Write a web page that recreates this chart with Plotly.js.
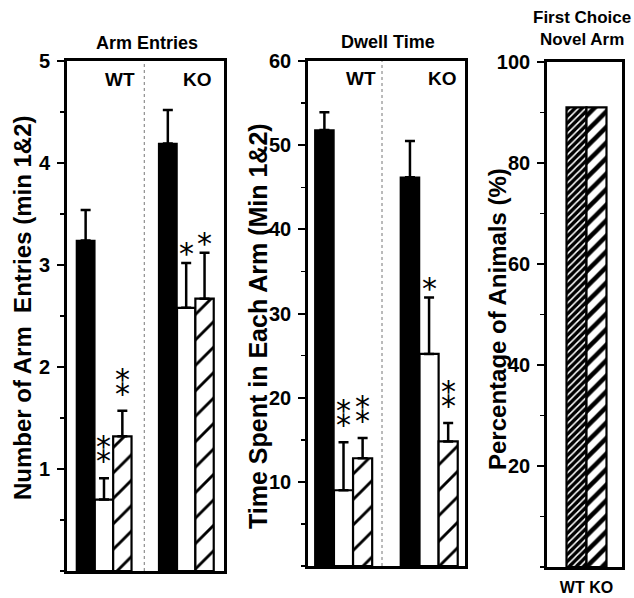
<!DOCTYPE html>
<html>
<head>
<meta charset="utf-8">
<script src="https://cdn.plot.ly/plotly-3.0.1.min.js"></script>
<style>
  html, body { margin: 0; padding: 0; background: #fff; }
  #chart { width: 634px; height: 598px; }
</style>
</head>
<body>
<div id="chart"></div>
<script>
// ---------- data ----------
const groups = ['WT', 'KO'];

// Arm Entries (min 1&2)
const entriesBlack = [3.24, 4.19];
const entriesBlackErr = [0.30, 0.33];
const entriesWhite = [0.70, 2.58];
const entriesWhiteErr = [0.21, 0.44];
const entriesHatched = [1.32, 2.67];
const entriesHatchedErr = [0.25, 0.45];
const entriesWhiteSig = ['**', '*'];
const entriesHatchedSig = ['**', '*'];
const entriesTicks = [1, 2, 3, 4, 5];

// Dwell Time (min 1&2)
const dwellBlack = [51.8, 46.2];
const dwellBlackErr = [2.1, 4.3];
const dwellWhite = [9.0, 25.2];
const dwellWhiteErr = [5.7, 6.7];
const dwellHatched = [12.8, 14.8];
const dwellHatchedErr = [2.4, 2.2];
const dwellWhiteSig = ['**', '*'];
const dwellHatchedSig = ['**', '**'];
const dwellTicks = [10, 20, 30, 40, 50, 60];

// First Choice Novel Arm
const choiceWT = [91];
const choiceKO = [91];
const choiceLabel = 'WT KO';
const choiceTicks = [20, 40, 60, 80, 100];

// ---------- styles ----------
const FONT = 'Liberation Sans, Arial, Helvetica, sans-serif';
const STARFONT = 'DejaVu Sans, Noto Sans, sans-serif';
const BARGAP = 0.33;
const zeros = a => a.map(() => 0);

const solidMarker = { color: '#000', line: { color: '#000', width: 1.5 } };
const whiteMarker = { color: '#fff', line: { color: '#000', width: 2.2 } };
const hatchMarker = {
  color: '#fff',
  line: { color: '#000', width: 2.2 },
  pattern: { shape: '/', fgcolor: '#000', bgcolor: '#fff', size: 18, solidity: 0.16 }
};

function bar(name, xa, ya, y, err, marker) {
  return {
    type: 'bar', name, x: groups, y, xaxis: xa, yaxis: ya, marker,
    error_y: { type: 'data', symmetric: false, array: err, arrayminus: zeros(err),
               color: '#000', thickness: 2.5, width: 5 },
    showlegend: false, hoverinfo: 'skip'
  };
}

const data = [
  bar('Black', 'x', 'y', entriesBlack, entriesBlackErr, solidMarker),
  bar('White', 'x', 'y', entriesWhite, entriesWhiteErr, whiteMarker),
  bar('Hatched', 'x', 'y', entriesHatched, entriesHatchedErr, hatchMarker),
  bar('Black', 'x2', 'y2', dwellBlack, dwellBlackErr, solidMarker),
  bar('White', 'x2', 'y2', dwellWhite, dwellWhiteErr, whiteMarker),
  bar('Hatched', 'x2', 'y2', dwellHatched, dwellHatchedErr, hatchMarker),
  {
    type: 'bar', name: 'WT', x: ['WT'], y: choiceWT, xaxis: 'x3', yaxis: 'y3', width: 1, offset: -0.5,
    marker: { color: '#000', line: { color: '#000', width: 2.2 },
              pattern: { shape: '/', fgcolor: '#fff', bgcolor: '#000', size: 5, solidity: 0.3 } },
    showlegend: false, hoverinfo: 'skip'
  },
  {
    type: 'bar', name: 'KO', x: ['KO'], y: choiceKO, xaxis: 'x3', yaxis: 'y3', width: 1, offset: -0.5,
    marker: { color: '#fff', line: { color: '#000', width: 2.2 },
              pattern: { shape: '/', fgcolor: '#000', bgcolor: '#fff', size: 11, solidity: 0.42 } },
    showlegend: false, hoverinfo: 'skip'
  }
];

// ---------- significance asterisks ----------
const annotations = [];
const hatchOffset = (1 - BARGAP) / 3;
function stars(xa, ya, vals, errs, sigs, offset) {
  sigs.forEach((s, i) => {
    if (!s) return;
    const dbl = s.length > 1;
    annotations.push({
      xref: xa, yref: ya, x: i + offset, y: vals[i] + errs[i],
      yanchor: 'bottom', xanchor: 'center', yshift: dbl ? 6 : -10,
      text: dbl ? '\u2051' : '*', showarrow: false,
      font: { family: STARFONT, size: 30, color: '#000' }
    });
  });
}
stars('x', 'y', entriesWhite, entriesWhiteErr, entriesWhiteSig, 0);
stars('x', 'y', entriesHatched, entriesHatchedErr, entriesHatchedSig, hatchOffset);
stars('x2', 'y2', dwellWhite, dwellWhiteErr, dwellWhiteSig, 0);
stars('x2', 'y2', dwellHatched, dwellHatchedErr, dwellHatchedSig, hatchOffset);

// ---------- labels ----------
const bold = (size) => ({ family: FONT, size, color: '#000', weight: 'bold' });
function label(text, x, y, size, extra) {
  annotations.push(Object.assign({ xref: 'paper', yref: 'paper', x, y, text, showarrow: false,
    font: bold(size), xanchor: 'center', yanchor: 'middle' }, extra || {}));
}
// panel titles
label('Arm Entries', 147 / 634, 1 - 43 / 598, 18);
label('Dwell Time', 388 / 634, 1 - 42 / 598, 18);
label('First Choice<br>Novel Arm', 582 / 634, 1 - 29 / 598, 17);
// WT / KO inside panels
label('WT', 137 / 634, 1 - 79 / 598, 19, { xanchor: 'right' });
label('KO', 214 / 634, 1 - 79 / 598, 19, { xanchor: 'right' });
label('WT', 378 / 634, 1 - 78 / 598, 19, { xanchor: 'right' });
label('KO', 459 / 634, 1 - 78 / 598, 19, { xanchor: 'right' });
// y-axis titles
label('Number of Arm  Entries (min 1&2)', 22 / 634, 1 - 308 / 598, 24, { textangle: -90 });
label('Time Spent in Each Arm (Min 1&2)', 258 / 634, 1 - 326 / 598, 25, { textangle: -90 });
label('Percentage of Animals (%)', 497 / 634, 1 - 319 / 598, 24, { textangle: -90 });

// ---------- axes ----------
function yAxis(domain, range, tickvals, minorStep, anchor) {
  return {
    domain, range, anchor, tickmode: 'array', tickvals,
    ticks: 'outside', ticklen: 7, tickwidth: 2, tickcolor: '#000',
    ticklabelstandoff: 3,
    minor: { tickmode: 'linear', tick0: 0, dtick: minorStep, ticks: 'outside', ticklen: 4, tickwidth: 1.5, tickcolor: '#000' },
    showline: true, linewidth: 2.8, linecolor: '#000', mirror: true,
    showgrid: false, zeroline: false, fixedrange: true,
    tickfont: bold(20)
  };
}
function xAxis(domain, range, anchor, tickText) {
  const ax = {
    domain, range, anchor, type: 'category',
    showline: true, linewidth: 2.8, linecolor: '#000', mirror: true,
    ticks: '', showticklabels: !!tickText, tickangle: 0, showgrid: false, zeroline: false, fixedrange: true,
    tickfont: bold(16), ticklabelstandoff: 4
  };
  if (tickText) { ax.tickmode = 'array'; ax.tickvals = [0.5]; ax.ticktext = [tickText]; }
  return ax;
}

const layout = {
  width: 634, height: 598,
  margin: { l: 0, r: 0, t: 0, b: 0 },
  paper_bgcolor: '#fff', plot_bgcolor: '#fff',
  barmode: 'group', bargap: BARGAP, bargroupgap: 0,
  showlegend: false,
  font: { family: FONT, color: '#000' },
  xaxis: xAxis([67 / 634, 224 / 634], [-0.45, 1.46], 'y'),
  yaxis: yAxis([1 - 571 / 598, 1 - 61 / 598], [0, 5], entriesTicks, 0.5, 'x'),
  xaxis2: xAxis([308 / 634, 465 / 634], [-0.415, 1.42], 'y2'),
  yaxis2: yAxis([1 - 566 / 598, 1 - 61 / 598], [0, 60], dwellTicks, 5, 'x2'),
  xaxis3: xAxis([547 / 634, 622 / 634], [-1.475, 2.275], 'y3', choiceLabel),
  yaxis3: yAxis([1 - 567 / 598, 1 - 62 / 598], [0, 100], choiceTicks, 10, 'x3'),
  shapes: [
    { type: 'line', xref: 'x', yref: 'y domain', x0: 0.49, x1: 0.49, y0: 0, y1: 1,
      line: { color: '#777', width: 1, dash: 'dot' } },
    { type: 'line', xref: 'x2', yref: 'y2 domain', x0: 0.45, x1: 0.45, y0: 0, y1: 1,
      line: { color: '#777', width: 1, dash: 'dot' } }
  ],
  annotations
};

Plotly.newPlot('chart', data, layout, { displayModeBar: false, staticPlot: true });
</script>
</body>
</html>
